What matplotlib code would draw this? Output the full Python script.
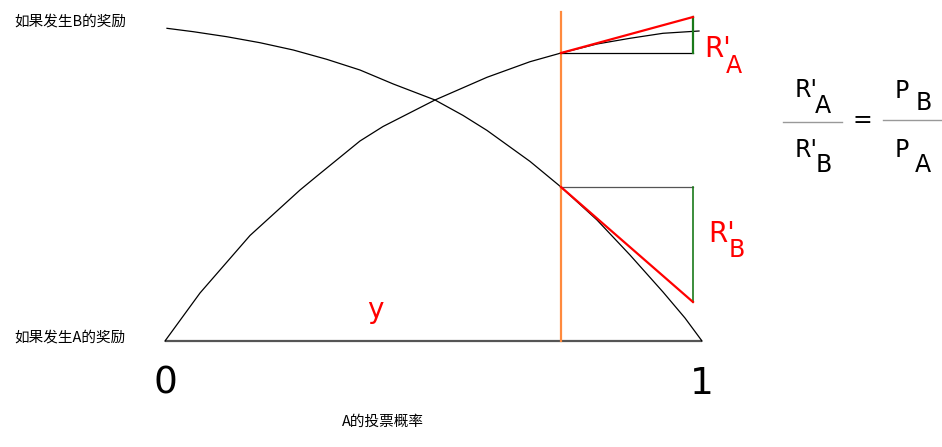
import matplotlib
matplotlib.use("Agg")
import matplotlib.pyplot as plt

# ---- data (unit coordinates: x = A's vote probability, y = reward) ----
curve_A_x = [0.0000, 0.0652, 0.1583, 0.2514, 0.2831, 0.3631, 0.4060, 0.5028,
             0.5996, 0.6797, 0.7374, 0.8045, 0.8659, 0.9274, 0.9944]
curve_A_y = [0.0000, 0.1534, 0.3371, 0.4824, 0.5272, 0.6390, 0.6853, 0.7700,
             0.8425, 0.8923, 0.9201, 0.9489, 0.9671, 0.9831, 0.9904]
curve_B_x = [0.0037, 0.0527, 0.1149, 0.1769, 0.2389, 0.3011, 0.3631, 0.4251,
             0.5028, 0.5549, 0.5996, 0.6797, 0.7374, 0.8045, 0.8659, 0.9274,
             0.9683, 1.0000]
curve_B_y = [0.9990, 0.9882, 0.9722, 0.9530, 0.9297, 0.9000, 0.8658, 0.8211,
             0.7700, 0.7208, 0.6728, 0.5738, 0.4920, 0.3866, 0.2748, 0.1565,
             0.0735, 0.0000]
base_x = [0.0, 1.0]
x_vote = 0.7374
vote_top = 1.051
tri_right = 0.9832
A_at_vote = 0.9201
A_tangent_end = 1.0351
B_at_vote = 0.4920
B_tangent_end = 0.1246
tick_pos = [0, 1]
tick_labels = ["0", "1"]
label_top = "如果发生B的奖励"
label_bottom = "如果发生A的奖励"
x_label = "A的投票概率"

CJK = ["Noto Sans CJK SC", "DejaVu Sans"]

fig = plt.figure(figsize=(9.42, 4.47), dpi=100)
ax = fig.add_axes([0, 0, 1, 1])
X0, X1, Y0, Y1 = 165.0, 702.0, 341.0, 28.0
ax.set_xlim((0 - X0) / (X1 - X0), (942 - X0) / (X1 - X0))
ax.set_ylim((Y0 - 447) / (Y0 - Y1), (Y0 - 0) / (Y0 - Y1))
ax.axis("off")


def P(xp, yp):
    return (xp - X0) / (X1 - X0), (Y0 - yp) / (Y0 - Y1)


# baseline
ax.plot(base_x, [0, 0], color="#555555", lw=1.6, solid_capstyle="butt")
# curves
ax.plot(curve_A_x, curve_A_y, color="black", lw=0.9, solid_joinstyle="round")
ax.plot(curve_B_x, curve_B_y, color="black", lw=0.9, solid_joinstyle="round")
# vertical orange line
ax.plot([x_vote, x_vote], [0, vote_top], color="#ff8a3d", lw=1.6)
# top triangle
ax.plot([x_vote, tri_right], [A_at_vote, A_at_vote], color="black", lw=0.9)
ax.plot([tri_right, tri_right], [A_at_vote, A_tangent_end], color="#1a7a1a", lw=1.6)
ax.plot([x_vote, tri_right], [A_at_vote, A_tangent_end], color="red", lw=1.6)
# bottom triangle
ax.plot([x_vote, tri_right], [B_at_vote, B_at_vote], color="#555555", lw=0.9)
ax.plot([tri_right, tri_right], [B_at_vote, B_tangent_end], color="#1a7a1a", lw=1.2)
ax.plot([x_vote, tri_right], [B_at_vote, B_tangent_end], color="red", lw=1.6)

# tick labels 0 / 1
for t, lab in zip(tick_pos, tick_labels):
    ax.text(t, P(0, 384)[1], lab, fontsize=27, ha="center", va="center",
            family="DejaVu Sans")

# Chinese labels
ax.text(*P(14, 22), label_top, fontsize=10.5, ha="left", va="center", family=CJK)
ax.text(*P(14, 338), label_bottom, fontsize=10.5, ha="left", va="center", family=CJK)
ax.text(*P(383, 422), x_label, fontsize=10.5, ha="center", va="center", family=CJK)

# red labels
ax.text(*P(375, 318), "y", fontsize=20, color="red", ha="center", va="baseline")


def rprime(xp, yb, sub, xsub, ysub, color, size, subsize):
    ax.text(*P(xp, yb), "R'", fontsize=size, color=color, ha="left", va="baseline")
    ax.text(*P(xsub, ysub), sub, fontsize=subsize, color=color, ha="left", va="baseline")


rprime(704, 57, "A", 726, 73, "red", 20, 17)
rprime(708, 242, "B", 729, 257, "red", 20, 17)

# formula
FS = 17
rprime(795, 97, "A", 815, 113, "black", FS, FS)
rprime(795, 157, "B", 816, 172, "black", FS, FS)
ax.text(*P(895, 98), "P", fontsize=FS, ha="left", va="baseline")
ax.text(*P(916, 110), "B", fontsize=FS, ha="left", va="baseline")
ax.text(*P(895, 157), "P", fontsize=FS, ha="left", va="baseline")
ax.text(*P(915, 172), "A", fontsize=FS, ha="left", va="baseline")
ax.text(*P(862, 120), "=", fontsize=FS, ha="center", va="center")
l0, l1 = P(783, 122), P(842, 122)
ax.plot([l0[0], l1[0]], [l0[1], l1[1]], color="#999999", lw=1.0)
r0, r1 = P(883, 120), P(942, 120)
ax.plot([r0[0], r1[0]], [r0[1], r1[1]], color="#999999", lw=1.0)

fig.savefig("out.png", dpi=100)
